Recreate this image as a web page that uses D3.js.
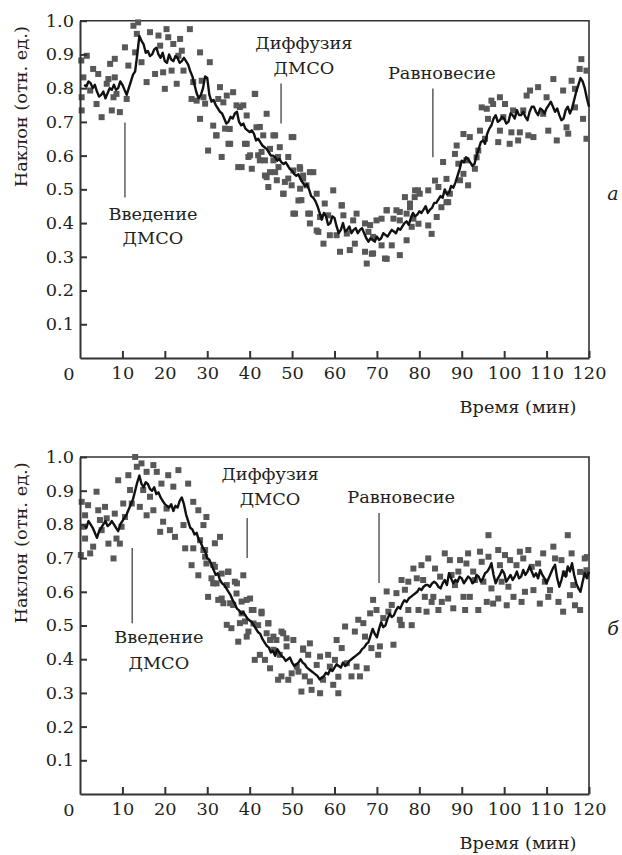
<!DOCTYPE html>
<html><head><meta charset="utf-8">
<script src="https://cdn.jsdelivr.net/npm/d3@7"></script>
<style>body{margin:0;background:#fff}svg{display:block}</style>
</head><body>
<script>
const xTicks = [10,20,30,40,50,60,70,80,90,100,110,120];
const yTicks = [0.1,0.2,0.3,0.4,0.5,0.6,0.7,0.8,0.9,1.0];
const xTitle = "Время (мин)";
const yTitle = "Наклон (отн. ед.)";

// averaged curve, one value every 0.5 min from t = 1 to t = 120
const lineA = [
0.81,0.805,0.82,0.815,0.80,0.81,0.79,0.775,0.78,0.79,0.77,0.785,0.80,0.795,0.81,0.795,0.80,0.82,0.81,0.795,
0.78,0.80,0.82,0.84,0.85,0.90,0.955,0.94,0.93,0.905,0.91,0.895,0.90,0.915,0.92,0.90,0.89,0.905,0.88,0.875,
0.90,0.885,0.88,0.895,0.89,0.875,0.88,0.89,0.88,0.87,0.85,0.835,0.81,0.785,0.77,0.78,0.80,0.835,0.83,0.78,
0.76,0.765,0.75,0.74,0.73,0.725,0.71,0.695,0.70,0.715,0.71,0.725,0.73,0.70,0.69,0.695,0.68,0.675,0.67,0.675,
0.665,0.645,0.65,0.64,0.63,0.625,0.62,0.61,0.60,0.60,0.595,0.585,0.59,0.58,0.575,0.58,0.57,0.56,0.555,0.545,
0.54,0.545,0.53,0.52,0.51,0.515,0.50,0.48,0.475,0.465,0.45,0.43,0.41,0.43,0.42,0.395,0.40,0.42,0.415,0.39,
0.37,0.38,0.40,0.375,0.38,0.39,0.37,0.38,0.385,0.37,0.38,0.385,0.37,0.355,0.345,0.355,0.35,0.345,0.36,0.35,
0.355,0.37,0.365,0.36,0.37,0.38,0.375,0.37,0.385,0.38,0.39,0.40,0.405,0.395,0.415,0.43,0.42,0.425,0.435,0.43,
0.44,0.45,0.43,0.44,0.445,0.46,0.46,0.47,0.48,0.475,0.50,0.485,0.49,0.51,0.505,0.52,0.54,0.56,0.585,0.58,
0.595,0.59,0.58,0.57,0.575,0.60,0.62,0.64,0.645,0.635,0.665,0.68,0.69,0.71,0.72,0.70,0.705,0.715,0.71,0.695,
0.70,0.725,0.72,0.71,0.735,0.72,0.72,0.73,0.715,0.705,0.73,0.745,0.745,0.73,0.72,0.74,0.735,0.725,0.74,0.75,
0.76,0.745,0.73,0.74,0.72,0.705,0.71,0.735,0.745,0.725,0.74,0.765,0.79,0.81,0.83,0.82,0.80,0.77,0.745];

const lineB = [
0.80,0.79,0.81,0.80,0.79,0.775,0.76,0.78,0.79,0.80,0.81,0.795,0.80,0.81,0.80,0.79,0.78,0.80,0.81,0.82,
0.83,0.845,0.86,0.875,0.90,0.925,0.945,0.92,0.91,0.925,0.92,0.905,0.90,0.91,0.89,0.895,0.88,0.87,0.86,0.855,
0.85,0.86,0.84,0.855,0.85,0.87,0.88,0.86,0.83,0.81,0.79,0.785,0.77,0.775,0.755,0.745,0.73,0.72,0.70,0.695,
0.68,0.665,0.65,0.655,0.635,0.625,0.62,0.61,0.60,0.59,0.575,0.565,0.55,0.545,0.535,0.54,0.53,0.52,0.515,0.51,
0.50,0.49,0.48,0.475,0.46,0.45,0.44,0.435,0.42,0.425,0.41,0.43,0.42,0.41,0.405,0.395,0.40,0.405,0.39,0.38,
0.385,0.39,0.40,0.39,0.385,0.375,0.37,0.365,0.36,0.355,0.35,0.34,0.345,0.35,0.36,0.355,0.37,0.365,0.375,0.385,
0.38,0.375,0.39,0.38,0.385,0.395,0.40,0.405,0.41,0.415,0.42,0.43,0.435,0.445,0.45,0.47,0.49,0.475,0.465,0.49,
0.51,0.495,0.50,0.52,0.535,0.525,0.53,0.545,0.555,0.55,0.565,0.575,0.57,0.58,0.585,0.59,0.595,0.60,0.61,0.605,
0.615,0.62,0.62,0.615,0.625,0.63,0.625,0.615,0.61,0.625,0.635,0.62,0.655,0.64,0.625,0.635,0.63,0.645,0.64,0.625,
0.635,0.645,0.64,0.625,0.63,0.65,0.645,0.63,0.64,0.655,0.66,0.67,0.685,0.65,0.625,0.64,0.65,0.665,0.655,0.63,
0.64,0.65,0.635,0.645,0.66,0.64,0.645,0.665,0.65,0.66,0.675,0.66,0.645,0.655,0.64,0.665,0.65,0.64,0.625,0.64,
0.655,0.67,0.68,0.64,0.615,0.635,0.66,0.645,0.675,0.66,0.685,0.65,0.625,0.61,0.60,0.63,0.655,0.64,0.66];

const scatterA = [
[0.3,0.882],[1.6,0.896],[0.8,0.832],[0.4,0.773],[0.4,0.734],[3.1,0.857],[2.4,0.793],[4.3,0.842],[3.9,0.753],[5.1,0.714],
[6.3,0.813],[6.7,0.827],[7.1,0.872],[8.2,0.887],[8.2,0.832],[7.9,0.773],[8.6,0.783],[7.5,0.734],[9.4,0.729],[10.6,0.921],
[11.4,0.867],[11.0,0.768],[12.6,0.985],[13.7,0.995],[13.4,0.961],[13.0,0.906],[14.5,0.877],[15.7,0.818],[16.5,0.966],[17.7,0.842],
[18.5,0.956],[18.9,0.926],[19.6,0.847],[20.0,0.798],[20.4,0.975],[20.8,0.951],[21.6,0.852],[22.0,0.931],[22.8,0.813],[23.2,0.896],
[23.6,0.946],[24.0,0.911],[24.4,0.852],[25.9,0.975],[26.3,0.768],[26.7,0.818],[27.5,0.763],[28.3,0.906],[28.3,0.709],[28.7,0.822],
[29.1,0.773],[30.2,0.615],[30.6,0.877],[31.4,0.689],[32.2,0.660],[33.0,0.803],[33.4,0.596],[33.8,0.758],[34.6,0.778],[35.0,0.635],
[35.3,0.679],[36.1,0.788],[36.9,0.749],[37.3,0.566],[37.7,0.744],[38.5,0.749],[38.9,0.635],[39.3,0.719],[39.7,0.596],[40.5,0.561],
[41.2,0.783],[41.6,0.684],[42.0,0.601],[43.2,0.660],[43.6,0.586],[44.0,0.724],[44.0,0.536],[44.4,0.507],[44.8,0.620],[45.6,0.660],
[46.0,0.551],[46.7,0.596],[47.1,0.625],[47.9,0.487],[48.3,0.522],[49.1,0.596],[49.9,0.655],[50.3,0.556],[50.7,0.428],[51.5,0.467],
[51.8,0.566],[52.6,0.541],[53.4,0.512],[54.2,0.428],[55.0,0.551],[55.8,0.487],[56.6,0.418],
[41.3,0.783],[32.6,0.768],[29.5,0.754],[42.4,0.685],[34.2,0.680],[46.0,0.660],[50.3,0.655],[32.1,0.660],[35.4,0.635],[39.3,0.635],
[42.8,0.611],[40.1,0.601],[42.4,0.586],[45.6,0.586],[38.1,0.566],[46.8,0.566],[51.9,0.561],[44.8,0.551],[54.2,0.551],[43.6,0.541],
[46.4,0.527],[49.1,0.532],[52.6,0.532],[49.9,0.512],[51.9,0.502],[48.0,0.487],[59.7,0.497],[52.2,0.468],[57.7,0.458],[61.7,0.453],
[50.3,0.428],[53.8,0.428],[54.2,0.399],[58.5,0.423],[62.1,0.423],[64.4,0.408],[65.2,0.428],[67.2,0.399],[68.4,0.394],[69.9,0.408],
[71.1,0.413],[72.3,0.438],[74.6,0.438],[76.6,0.477],[78.9,0.477],[79.7,0.497],[77.8,0.458],[73.9,0.413],[75.4,0.408],[77.0,0.428],
[78.6,0.413],[56.2,0.374],[60.5,0.364],[62.9,0.369],[58.9,0.364],[68.0,0.374],[69.1,0.359],[64.8,0.339],[57.4,0.339],[71.1,0.334],
[73.5,0.334],[77.0,0.349],[78.2,0.389],[61.3,0.315],[63.6,0.320],[67.2,0.315],[69.1,0.310],[67.6,0.280],[71.9,0.295],[75.4,0.305],
[55.8,0.378],[61.7,0.452],[72.3,0.294],[79.8,0.398],[82.9,0.368],[82.1,0.393],[84.1,0.418],[85.2,0.447],[86.8,0.462],[68.8,0.309],
[118.2,0.886],[117.8,0.857],[119.4,0.852],[115.9,0.822],[111.6,0.827],[108.0,0.803],[106.1,0.793],[105.3,0.778],[110.0,0.773],[113.9,0.793],
[116.7,0.798],[116.7,0.743],[118.6,0.709],[119.4,0.650],[114.7,0.684],[115.1,0.665],[112.4,0.645],[110.4,0.674],[109.2,0.724],[106.9,0.655],
[105.7,0.660],[103.7,0.669],[103.3,0.645],[101.3,0.635],[101.7,0.669],[99.0,0.674],[98.6,0.640],[104.5,0.734],[102.1,0.734],[100.2,0.753],
[99.0,0.773],[97.4,0.753],[97.0,0.763],[95.9,0.739],[94.7,0.743],[96.2,0.709],[94.3,0.674],[95.5,0.650],[99.8,0.714],[93.9,0.615],
[91.9,0.655],[90.4,0.664],[91.1,0.586],[93.1,0.561],[93.5,0.595],[88.8,0.630],[88.4,0.605],[90.4,0.546],[89.2,0.576],[89.6,0.527],
[91.5,0.512],[85.6,0.581],[86.4,0.531],[83.7,0.526],[84.5,0.507],[87.2,0.487],[86.4,0.462],[82.1,0.497],[80.1,0.487],[79.0,0.497],
[77.8,0.447],[75.4,0.433],[72.3,0.438]
];

const scatterB = [
[0.2,0.709],[0.4,0.867],[1.9,0.857],[1.2,0.827],[0.8,0.793],[1.2,0.758],[2.4,0.714],[3.1,0.734],[3.9,0.897],[4.3,0.842],
[4.7,0.813],[5.1,0.783],[5.9,0.852],[6.3,0.818],[6.7,0.743],[7.9,0.699],[8.2,0.832],[8.6,0.758],[9.0,0.931],[9.4,0.743],
[9.8,0.793],[10.2,0.862],[10.6,0.822],[11.4,0.946],[11.8,0.902],[12.2,0.862],[13.0,1.0],[13.4,0.971],[14.1,0.852],[14.5,0.981],
[14.9,0.902],[15.7,0.956],[15.7,0.827],[16.5,0.882],[17.3,0.976],[17.3,0.842],[18.1,0.956],[18.9,0.778],[19.2,0.921],[19.6,0.808],
[20.4,0.847],[20.8,0.946],[21.2,0.783],[22.0,0.912],[22.4,0.763],[23.2,0.961],[24.4,0.798],[24.8,0.729],[25.5,0.921],[26.7,0.867],
[26.7,0.729],[27.9,0.842],[28.3,0.753],[29.1,0.798],[29.5,0.724],[29.8,0.822],[26.3,0.679],[27.9,0.649],[29.8,0.684],[31.8,0.674],
[32.2,0.625],[33.0,0.763],[33.4,0.654],[34.9,0.659],[36.5,0.630],[38.5,0.649],
[30.2,0.585],[31.4,0.625],[33.4,0.580],[34.6,0.620],[35.4,0.566],[36.9,0.595],[37.3,0.452],[38.1,0.536],[39.3,0.576],[39.7,0.482],
[40.1,0.580],[40.5,0.546],[40.9,0.506],[42.0,0.501],[42.8,0.536],[44.0,0.477],[44.4,0.506],[44.8,0.457],[45.6,0.467],[47.5,0.482],
[48.7,0.462],[50.3,0.457],[52.6,0.432],[54.2,0.447],
[29.1,0.724],[31.8,0.744],[29.5,0.704],[31.4,0.680],[31.0,0.640],[35.0,0.660],[37.0,0.625],[32.6,0.576],[33.8,0.566],[36.1,0.561],
[38.1,0.571],[40.9,0.546],[42.8,0.541],[34.6,0.502],[35.7,0.492],[37.7,0.507],[39.3,0.467],[38.9,0.512],[44.4,0.507],[47.9,0.477],
[46.3,0.457],[48.7,0.438],[42.4,0.413],[41.2,0.398],[43.6,0.398],[44.8,0.373],[45.6,0.428],[47.1,0.413],[47.5,0.349],[46.7,0.339],
[49.1,0.339],[49.9,0.358],[51.1,0.378],[51.5,0.363],[52.6,0.428],[53.8,0.413],[53.0,0.349],[54.2,0.334],[52.2,0.304],[54.6,0.309],
[56.6,0.299],[55.8,0.383],[56.6,0.408],[57.3,0.339],[58.5,0.413],[58.9,0.378],[59.7,0.324],[60.1,0.398],[60.9,0.348],[60.9,0.299],
[60.5,0.457],[61.7,0.433],[62.5,0.497],[62.9,0.388],[64.0,0.349],[64.8,0.482],[65.2,0.378],[65.6,0.517],[66.0,0.349],[66.8,0.507],
[67.2,0.467],[67.6,0.373],[68.4,0.536],[68.7,0.433],[69.1,0.576],[69.9,0.546],[70.3,0.413],[70.7,0.438],[71.5,0.522],[72.3,0.601],
[72.7,0.541],[73.5,0.561],[73.9,0.443],[74.6,0.596],[75.4,0.517],[75.8,0.635],[76.6,0.606],[77.4,0.630],[77.4,0.546],[75.8,0.502],
[96.3,0.768],[115.0,0.768],[75.8,0.501],[78.2,0.501],[78.6,0.669],[79.4,0.640],[79.8,0.546],[80.5,0.679],[80.9,0.635],[81.3,0.585],
[81.7,0.541],[82.1,0.699],[82.9,0.570],[83.3,0.585],[83.7,0.669],[84.5,0.546],[85.3,0.570],[84.9,0.645],[86.0,0.714],[86.8,0.580],
[87.2,0.694],[87.6,0.650],[88.0,0.551],[88.4,0.620],[89.2,0.660],[89.6,0.694],[90.4,0.585],[90.8,0.546],[91.1,0.684],[91.5,0.714],
[91.9,0.585],[92.7,0.660],[93.1,0.635],[93.9,0.546],[94.3,0.719],[94.7,0.689],[95.1,0.630],[95.9,0.570],[96.3,0.704],[97.0,0.610],
[97.4,0.565],[98.6,0.724],[99.0,0.679],[99.4,0.630],[98.6,0.580],[100.2,0.709],[100.6,0.560],[101.4,0.694],[101.0,0.615],[102.2,0.585],
[102.9,0.679],[103.7,0.719],[104.1,0.570],[104.5,0.699],[104.9,0.600],[105.7,0.724],[106.5,0.674],[106.9,0.605],[108.0,0.684],[108.4,0.565],
[109.2,0.714],[109.6,0.630],[110.4,0.585],[110.8,0.605],[111.6,0.734],[112.0,0.699],[112.8,0.570],[113.5,0.694],[113.9,0.541],[114.3,0.654],
[115.5,0.590],[115.9,0.714],[116.3,0.620],[116.7,0.560],[117.9,0.546],[117.9,0.659],[119.0,0.699],[119.4,0.664],[119.5,0.703],[119.2,0.655]
];

const annotA = [
  {lines:["Введение","ДМСО"], tx:17.2, ty:[0.408,0.337], lx:10.6, ly:[0.698,0.476]},
  {lines:["Диффузия","ДМСО"], tx:52.8, ty:[0.917,0.843], lx:47.4, ly:[0.814,0.695]},
  {lines:["Равновесие"], tx:85.3, ty:[0.828], lx:83.2, ly:[0.799,0.595]}
];
const annotB = [
  {lines:["Введение","ДМСО"], tx:18.6, ty:[0.448,0.371], lx:12.3, ly:[0.730,0.507]},
  {lines:["Диффузия","ДМСО"], tx:44.8, ty:[0.932,0.858], lx:39.4, ly:[0.819,0.700]},
  {lines:["Равновесие"], tx:75.7, ty:[0.864], lx:70.5, ly:[0.834,0.626]}
];

const W = 622, H = 855;
const FONT = "DejaVu Serif";
const FS = 16;
const svg = d3.select("body").append("svg").attr("width", W).attr("height", H)
  .attr("font-family", FONT);

const probe = svg.append("text").attr("font-family", FONT).attr("font-size", FS).text(xTitle);
const probeW = probe.node().getComputedTextLength() || 117;
probe.remove();
const SX = Math.max(0.8, Math.min(1.4, 117 / probeW));

function txt(g, x, y, s, anchor, extra) {
  return g.append("text")
    .attr("transform", `translate(${x},${y})` + (extra||"") + ` scale(${SX},1)`)
    .attr("text-anchor", anchor || "middle")
    .attr("font-family", FONT)
    .attr("font-size", FS).attr("fill", "#231f20").text(s);
}

function panel(cfg) {
  const {top, bottom, left, right, line, scatter, annots, letter, letterY} = cfg;
  const x = d3.scaleLinear().domain([0,120]).range([left, right]);
  const y = d3.scaleLinear().domain([0,1]).range([bottom, top]);
  const g = svg.append("g");

  g.append("path").attr("d", `M${left},${top}H${right}V${bottom}`)
    .attr("fill","none").attr("stroke","#333").attr("stroke-width",1.6);

  g.append("g").selectAll("rect").data(scatter).join("rect")
    .attr("x", d => x(d[0]) - 3).attr("y", d => y(d[1]) - 3)
    .attr("width", 6).attr("height", 6).attr("fill", "#585858");

  const times = d3.range(line.length).map(i => 1 + i * 0.5);
  g.append("path").datum(line)
    .attr("d", d3.line().x((d,i) => x(times[i])).y(d => y(d)))
    .attr("fill","none").attr("stroke","#111").attr("stroke-width",2.4)
    .attr("stroke-linejoin","round");

  const ax = g.append("g").attr("transform", `translate(0,${bottom})`)
    .call(d3.axisBottom(x).tickValues(xTicks).tickSize(-7).tickPadding(10).tickSizeOuter(0));
  const ay = g.append("g").attr("transform", `translate(${left},0)`)
    .call(d3.axisLeft(y).tickValues(yTicks).tickSize(-7).tickPadding(6).tickSizeOuter(0)
      .tickFormat(d3.format(".1f")));
  [ax, ay].forEach(a => {
    a.attr("font-family", FONT).attr("font-size", FS);
    a.select(".domain").attr("stroke","#333").attr("stroke-width",2);
    a.selectAll(".tick line").attr("stroke","#333").attr("stroke-width",2);
    a.selectAll("text").attr("font-size", FS).attr("font-family", FONT).attr("fill","#231f20");
  });
  ax.selectAll("text").attr("transform", `scale(${SX},1)`);
  ay.selectAll("text").attr("x", null).attr("dy","0.34em")
    .attr("transform", `translate(-6,0) scale(${SX},1)`);
  txt(g, left - 11, bottom + 22, "0", "middle");

  txt(g, 518, bottom + 55, xTitle, "middle");
  txt(g, 27, y(0.745), yTitle, "middle", " rotate(-90)");
  g.append("text").attr("x", 613).attr("y", letterY).attr("text-anchor","middle")
    .attr("font-family", FONT)
    .attr("font-size", 19).attr("font-style","italic").attr("fill","#231f20").text(letter);

  annots.forEach(a => {
    g.append("line").attr("x1", x(a.lx)).attr("x2", x(a.lx))
      .attr("y1", y(a.ly[0])).attr("y2", y(a.ly[1]))
      .attr("stroke","#231f20").attr("stroke-width",1.1);
    a.lines.forEach((s,i) => txt(g, x(a.tx), y(a.ty[i]), s, "middle"));
  });
}

panel({top:20.7, bottom:358, left:80, right:589, line:lineA, scatter:scatterA, annots:annotA, letter:"a", letterY:200});
panel({top:457, bottom:794, left:80, right:589, line:lineB, scatter:scatterB, annots:annotB, letter:"б", letterY:635});
</script>
</body></html>
